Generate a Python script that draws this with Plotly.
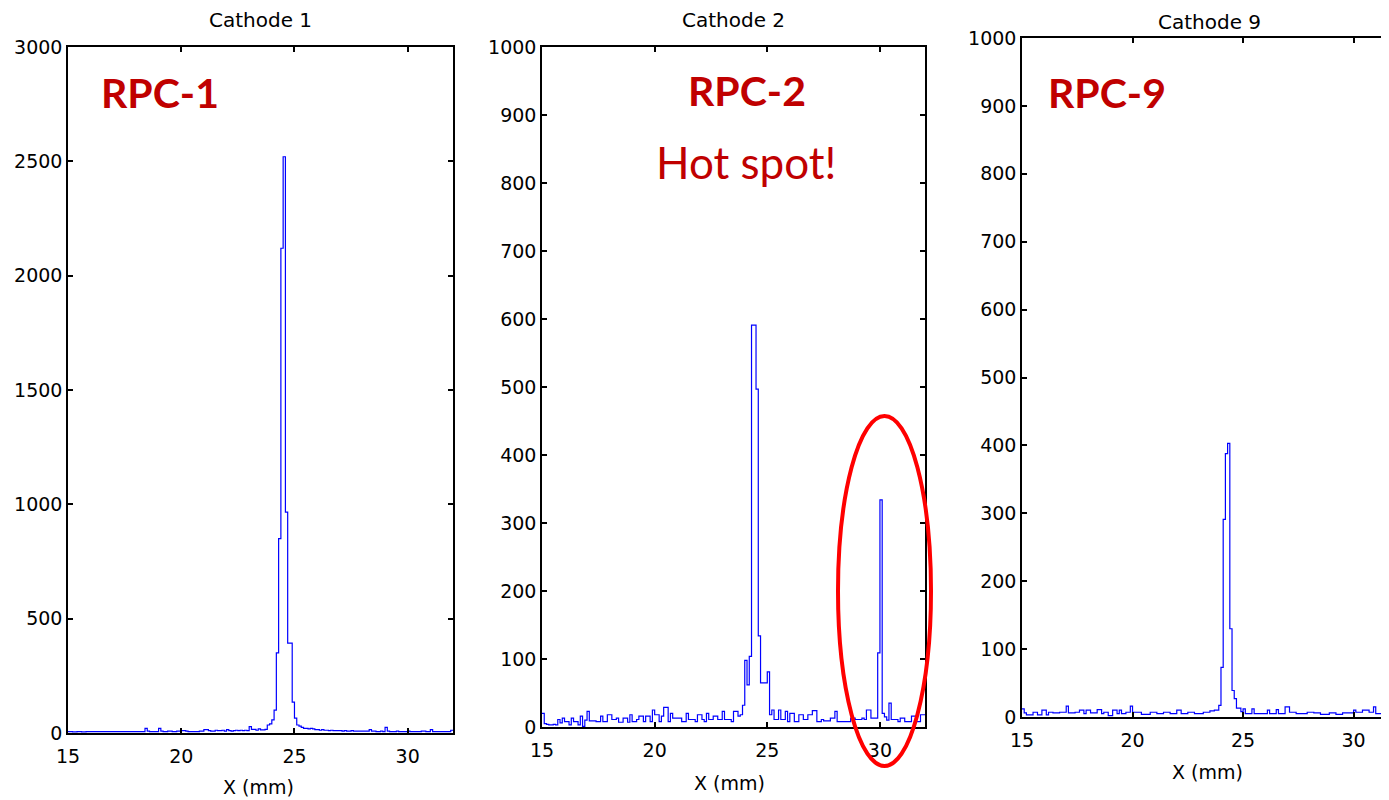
import plotly.graph_objects as go

# ---------------- data (histogram counts, 0.1 mm bins starting at 15.0 mm) ----------------
BIN_START = 15.0
BIN_WIDTH = 0.1

counts_cathode1 = [
    6, 6, 5, 5, 6, 6, 5, 5, 6, 6,            # 15
    6, 6, 6, 6, 6, 6, 6, 6, 6, 6,            # 16
    6, 6, 6, 6, 6, 6, 6, 6, 6, 6,            # 17
    6, 6, 6, 6, 20, 8, 6, 6, 6, 6,           # 18
    20, 8, 6, 6, 8, 8, 6, 6, 8, 8,           # 19
    10, 10, 8, 6, 6, 6, 6, 6, 8, 8,          # 20
    15, 15, 10, 8, 8, 12, 10, 10, 12, 8,     # 21
    15, 10, 8, 10, 12, 10, 12, 10, 12, 10,   # 22
    28, 16, 16, 12, 18, 14, 14, 16, 35, 40,  # 23
    57, 100, 350, 850, 2120, 2520, 966, 393, 393, 135,  # 24
    65, 35, 30, 25, 20, 20, 18, 20, 18, 15,  # 25
    15, 12, 15, 12, 12, 10, 12, 10, 10, 10,  # 26
    10, 8, 10, 8, 8, 10, 8, 8, 8, 8,         # 27
    8, 8, 8, 15, 8, 8, 6, 6, 8, 6,           # 28
    25, 8, 6, 6, 6, 8, 6, 6, 6, 6,           # 29
    8, 6, 6, 6, 6, 6, 8, 8, 6, 6,            # 30
    15, 6, 6, 6, 6, 6, 6, 6, 6, 12,          # 31
]

counts_cathode2 = [
    20, 5, 4, 3, 3, 4, 3, 11, 6, 13,         # 15
    8, 8, 3, 13, 8, 8, 3, 16, 1, 10,         # 16
    23, 9, 9, 9, 8, 8, 16, 8, 8, 18,         # 17
    18, 11, 11, 13, 7, 7, 13, 13, 7, 18,     # 18
    8, 8, 11, 16, 16, 8, 16, 16, 8, 25,      # 19
    18, 18, 8, 16, 29, 29, 8, 20, 13, 13,    # 20
    13, 13, 8, 8, 20, 11, 11, 11, 8, 18,     # 21
    18, 11, 8, 20, 11, 11, 16, 16, 11, 11,   # 22
    23, 11, 11, 11, 8, 23, 23, 16, 18, 32,   # 23
    98, 62, 104, 591, 591, 497, 134, 65, 65, 65,  # 24
    81, 18, 25, 11, 11, 25, 11, 11, 23, 8,   # 25
    20, 20, 8, 8, 18, 18, 11, 11, 18, 18,    # 26
    24, 24, 8, 8, 11, 9, 9, 9, 13, 13,       # 27
    23, 8, 8, 8, 8, 8, 8, 13, 13, 11,        # 28
    11, 11, 13, 11, 25, 25, 13, 13, 13, 109, # 29
    334, 20, 15, 10, 35, 11, 11, 11, 8, 13,  # 30
    13, 8, 8, 8, 16, 16, 8, 8, 18, 18,       # 31
]

counts_cathode9 = [
    12, 6, 3, 3, 3, 7, 7, 3, 3, 10,          # 15
    10, 3, 7, 7, 6, 6, 6, 7, 7, 7,           # 16
    16, 6, 6, 6, 7, 7, 10, 10, 5, 10,        # 17
    10, 6, 6, 6, 11, 11, 5, 7, 7, 2,         # 18
    2, 10, 10, 5, 10, 5, 5, 7, 7, 16,        # 19
    7, 7, 7, 7, 4, 4, 4, 4, 7, 7,            # 20
    7, 5, 5, 5, 7, 7, 7, 5, 5, 5,            # 21
    10, 10, 5, 5, 5, 7, 7, 7, 5, 5,          # 22
    5, 5, 7, 7, 7, 9, 9, 10, 10, 17,         # 23
    73, 291, 388, 403, 130, 39, 27, 13, 13, 8,  # 24
    12, 5, 5, 5, 12, 5, 5, 5, 5, 5,          # 25
    5, 10, 5, 5, 5, 11, 5, 5, 5, 15,         # 26
    15, 7, 7, 7, 5, 5, 5, 5, 5, 7,           # 27
    7, 7, 6, 6, 6, 4, 4, 4, 4, 6,            # 28
    6, 6, 4, 4, 4, 6, 6, 6, 6, 6,            # 29
    10, 7, 7, 7, 10, 10, 10, 7, 7, 15,       # 30
    5, 5, 5, 5, 16, 16, 5, 5, 5, 5,          # 31
]

panel_titles = ["Cathode 1", "Cathode 2", "Cathode 9"]
panel_labels = ["RPC-1", "RPC-2", "RPC-9"]
x_title = "X (mm)"
y_max = [3000, 1000, 1000]
y_dtick = [500, 100, 100]
x_max = [32.0, 32.0, 31.6]
x_ticks = [15, 20, 25, 30]

# ---------------- figure ----------------
# The page body has an 8 px margin, so the figure is drawn 8 px smaller and
# all target positions (in window pixels) are shifted by that offset.
OFF = 8
W, H = 1389 - OFF, 800 - OFF
# plot-area boxes in window pixels: (left, right, top, bottom)
boxes = [(68, 453, 47, 733), (542, 925, 47, 727), (1022, 1389, 38, 717)]

def px(x):
    return min(max((x - OFF) / W, 0.0), 1.0)

def py(y):
    return min(max(1 - (y - OFF) / H, 0.0), 1.0)

fig = go.Figure()
series = [counts_cathode1, counts_cathode2, counts_cathode9]
tickfont = dict(family="DejaVu Sans", size=19, color="black")

for i, counts in enumerate(series):
    edges = [round(BIN_START + k * BIN_WIDTH, 3) for k in range(len(counts) + 1)]
    yvals = list(counts) + [counts[-1]]
    sfx = "" if i == 0 else str(i + 1)
    fig.add_trace(go.Scatter(
        x=edges, y=yvals, mode="lines", line=dict(color="#0000FF", width=1.2, shape="hv"),
        xaxis="x" + sfx, yaxis="y" + sfx, showlegend=False, hoverinfo="skip"))
    l, r, t, b = boxes[i]
    fig.layout["xaxis" + sfx] = dict(
        domain=[px(l), px(r)], anchor="y" + sfx, range=[15, x_max[i]],
        tickmode="array", tickvals=x_ticks, ticktext=[str(v) for v in x_ticks],
        showline=True, linecolor="black", linewidth=1.5, mirror="ticks",
        ticks="inside", ticklen=5, tickwidth=1.5, tickcolor="black",
        showgrid=False, zeroline=False, tickfont=tickfont, ticklabelstandoff=5,
        automargin=False)
    fig.layout["yaxis" + sfx] = dict(
        domain=[py(b), py(t)], anchor="x" + sfx, range=[0, y_max[i]],
        dtick=y_dtick[i], tick0=0,
        showline=True, linecolor="black", linewidth=1.5,
        mirror=("ticks" if i < 2 else False),
        ticks="inside", ticklen=5, tickwidth=1.5, tickcolor="black",
        showgrid=False, zeroline=False, tickfont=tickfont, ticklabelstandoff=0,
        automargin=False)

annotations = []
title_pos = [(260, 20), (733, 20), (1209, 8)]
title_anchor = ["middle", "middle", "top"]
xlab_pos = [(258, 787), (729, 783), (1207, 772)]
label_pos = [(160, 92), (747, 91), (1107, 92)]
for i in range(3):
    annotations.append(dict(x=px(title_pos[i][0]), y=py(title_pos[i][1]), xref="paper", yref="paper",
                            text=panel_titles[i], showarrow=False, xanchor="center",
                            yanchor=title_anchor[i],
                            font=dict(family="DejaVu Sans", size=20, color="black")))
    annotations.append(dict(x=px(xlab_pos[i][0]), y=py(xlab_pos[i][1]), xref="paper", yref="paper",
                            text=x_title, showarrow=False, xanchor="center", yanchor="middle",
                            font=dict(family="DejaVu Sans", size=19, color="black")))
    annotations.append(dict(x=px(label_pos[i][0]), y=py(label_pos[i][1]), xref="paper", yref="paper",
                            text="<b>" + panel_labels[i] + "</b>", showarrow=False,
                            xanchor="center", yanchor="middle",
                            font=dict(family="Lato", size=41, color="#C00000")))
annotations.append(dict(x=px(746), y=py(162), xref="paper", yref="paper",
                        text="Hot spot!", showarrow=False, xanchor="center", yanchor="middle",
                        font=dict(family="Lato", size=44, color="#C00000")))

fig.update_layout(
    width=W, height=H, margin=dict(l=0, r=0, t=0, b=0),
    paper_bgcolor="white", plot_bgcolor="white",
    annotations=annotations,
    shapes=[dict(type="circle", xref="paper", yref="paper",
                 x0=px(838), x1=px(931), y0=py(766), y1=py(416),
                 line=dict(color="#FF0000", width=4))],
)

fig.write_html("out.html")
